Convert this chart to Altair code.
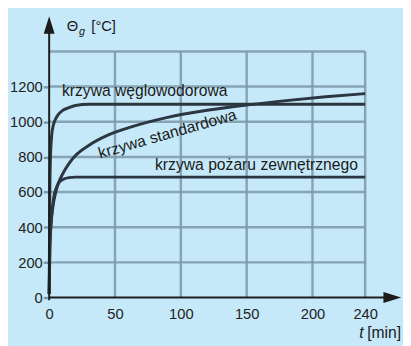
import altair as alt
import pandas as pd

# values
hydro_t = [0, 0.5, 1, 1.5, 2, 3, 4, 5, 7, 10, 15, 20, 30, 60, 120, 180, 240]
hydro_v = [20, 600, 800, 880, 930, 975, 1000, 1018, 1042, 1063, 1080, 1092, 1099, 1100, 1100, 1100, 1100]

std_t = [0, 0.5, 1, 2, 3, 5, 7.5, 10, 15, 20, 30, 45, 60, 90, 120, 150, 180, 210, 240]
std_v = [20, 270, 365, 465, 525, 600, 660, 700, 762, 808, 865, 925, 965, 1025, 1065, 1095, 1120, 1142, 1160]

ext_t = [0, 0.5, 1, 2, 3, 4, 5, 7, 10, 15, 20, 30, 60, 120, 180, 240]
ext_v = [20, 290, 380, 480, 545, 590, 615, 650, 670, 682, 685, 685, 685, 685, 685, 685]

x_ticks = [0, 50, 100, 150, 200, 240]
y_ticks = [0, 200, 400, 600, 800, 1000, 1200]
grid_h = [200, 400, 600, 800, 1000, 1200, 1400]
grid_v = [50, 100, 150, 200, 240]

rows = []
for name, ts, vs in [("hydro", hydro_t, hydro_v), ("std", std_t, std_v), ("ext", ext_t, ext_v)]:
    for t, v in zip(ts, vs):
        rows.append({"curve": name, "t": t, "v": v})
curves = pd.DataFrame(rows)

FONT = "Liberation Sans"
GRID = "#7b98a8"
INK = "#1c1c1c"
BG = "#c6e9f9"

X = alt.Scale(domain=[0, 268], nice=False, zero=False)
Y = alt.Scale(domain=[0, 1600], nice=False, zero=False)

AX = alt.Axis(values=x_ticks, title=None, domain=False, grid=False, ticks=False, format="d",
              labelFontSize=15, labelPadding=9, labelFont=FONT, labelColor="#222",
              labelFlush=False)
AY = alt.Axis(values=y_ticks, title=None, domain=False, grid=False, format="d",
              tickColor=GRID, tickSize=6, tickWidth=2.5, labelPadding=1,
              labelFontSize=15, labelFont=FONT, labelColor="#222",
              labelFlush=False)


def xe(field):
    return alt.X(field, scale=X, axis=AX, title=None)


def ye(field):
    return alt.Y(field, scale=Y, axis=AY, title=None)


hdf = pd.DataFrame({"y": grid_h, "x0": 0, "x1": 240})
vdf = pd.DataFrame({"x": grid_v, "y0": 0, "y1": 1400})

hgrid = alt.Chart(hdf).mark_rule(color=GRID, strokeWidth=2.5, opacity=0.85).encode(
    x=xe("x0:Q"), x2="x1:Q", y=ye("y:Q"))
vgrid = alt.Chart(vdf).mark_rule(color=GRID, strokeWidth=2.5, opacity=0.85).encode(
    x=xe("x:Q"), y=ye("y0:Q"), y2="y1:Q")

lines = alt.Chart(curves).mark_line(color="#2b3640", strokeWidth=3, interpolate="monotone", clip=False).encode(
    x=xe("t:Q"), y=ye("v:Q"), detail="curve:N")

axes_df = pd.DataFrame({"x0": [0, 0], "x1": [255, 0], "y0": [0, -15], "y1": [0, 1510]})
axes = alt.Chart(axes_df).mark_rule(color=INK, strokeWidth=2, clip=False).encode(
    x=xe("x0:Q"), x2="x1:Q", y=ye("y0:Q"), y2="y1:Q")

arrx = alt.Chart(pd.DataFrame({"x": [260.6], "y": [0]})).mark_point(
    shape="M1,0L-1,0.62L-1,-0.62Z", size=324, filled=True, color=INK, opacity=1, clip=False).encode(
    x=xe("x:Q"), y=ye("y:Q"))
arry = alt.Chart(pd.DataFrame({"x": [0], "y": [1550]})).mark_point(
    shape="M0,-1L0.62,1L-0.62,1Z", size=324, filled=True, color=INK, opacity=1, clip=False).encode(
    x=xe("x:Q"), y=ye("y:Q"))


def label(x, y, text, size=16, angle=0, style="normal", align="left"):
    return alt.Chart(pd.DataFrame({"x": [x], "y": [y], "text": [text]})).mark_text(
        font=FONT, fontSize=size, color="#1a1a1a", align=align, baseline="alphabetic",
        angle=angle, fontStyle=style, clip=False).encode(
        x=xe("x:Q"), y=ye("y:Q"), text="text:N")


texts = [
    label(9.7, 1148, "krzywa węglowodorowa"),
    label(38.7, 791, "krzywa standardowa", angle=344),
    label(80.4, 725, "krzywa pożaru zewnętrznego"),
    label(13.4, 1516, "Θ", size=15),
    label(22.6, 1494, "g", size=11, style="italic"),
    label(32.0, 1516, "[°C]", size=15),
    label(235.5, -228, "t", size=16, style="italic"),
    label(241.5, -228, "[min]", size=16),
]

chart = alt.layer(hgrid, vgrid, lines, axes, arrx, arry, *texts).properties(
    width=360, height=287, autosize="none",
    padding={"left": 42, "top": 5, "right": 1, "bottom": 46},
    background=BG,
).configure_view(fill=BG, stroke=None)

chart.save("out.html", embed_options={"renderer": "svg", "actions": False})
